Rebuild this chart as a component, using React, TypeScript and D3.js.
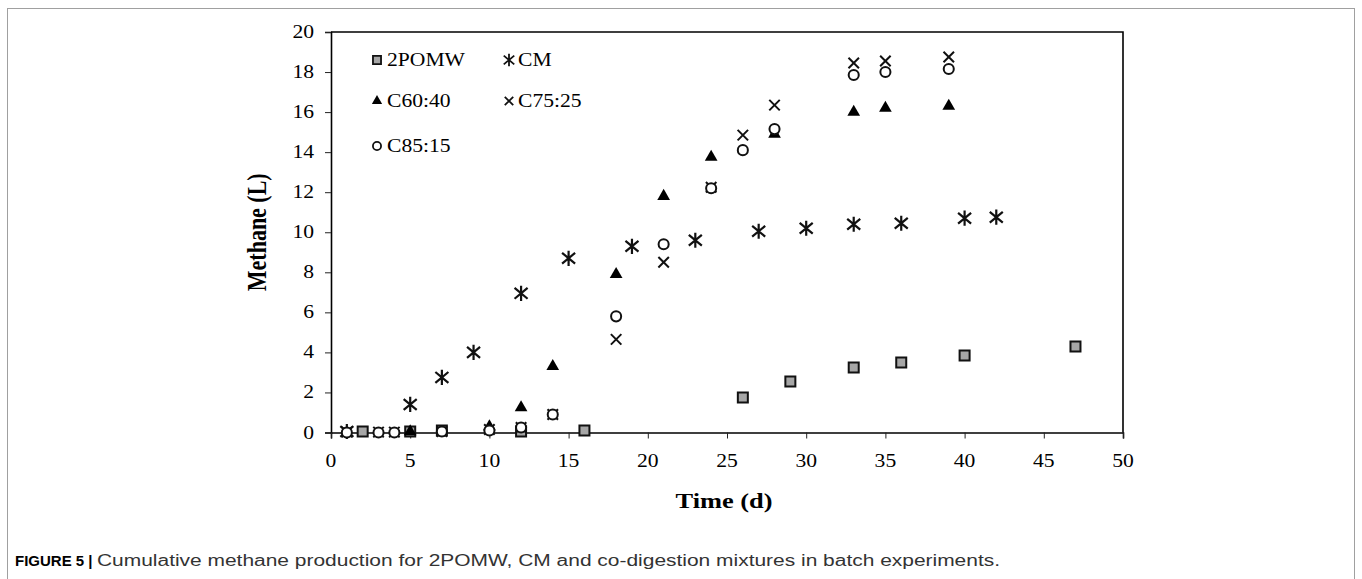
import React, { useRef, useEffect } from 'react'
import * as d3 from 'd3'

// time (d) and cumulative methane (L) per substrate
const days2POMW = [2, 5, 7, 12, 16, 26, 29, 33, 36, 40, 47]
const vals2POMW = [0.05, 0.05, 0.1, 0.05, 0.1, 1.75, 2.55, 3.25, 3.5, 3.85, 4.3]
const daysCM = [1, 5, 7, 9, 12, 15, 19, 23, 27, 30, 33, 36, 40, 42]
const valsCM = [0.05, 1.4, 2.75, 4.0, 6.95, 8.7, 9.3, 9.6, 10.05, 10.2, 10.4, 10.45, 10.7, 10.75]
const daysC60 = [5, 10, 12, 14, 18, 21, 24, 28, 33, 35, 39]
const valsC60 = [0.05, 0.3, 1.25, 3.3, 7.9, 11.8, 13.75, 14.9, 16.0, 16.2, 16.3]
const daysMix = [1, 3, 4, 7, 10, 12, 14, 18, 21, 24, 26, 28, 33, 35, 39]
const valsC75 = [0.02, 0.02, 0.02, 0.05, 0.15, 0.25, 0.9, 4.65, 8.5, 12.25, 14.85, 16.35, 18.45, 18.55, 18.75]
const valsC85 = [0, 0, 0, 0.05, 0.1, 0.25, 0.9, 5.8, 9.4, 12.2, 14.1, 15.15, 17.85, 18.0, 18.15]

const xTicks = [0, 5, 10, 15, 20, 25, 30, 35, 40, 45, 50]
const yTicks = [0, 2, 4, 6, 8, 10, 12, 14, 16, 18, 20]

// custom marker shapes for d3.symbol
const crossX = {
  draw(ctx: any, size: number) {
    const r = Math.sqrt(size) / 2
    ctx.moveTo(-r, -r); ctx.lineTo(r, r)
    ctx.moveTo(-r, r); ctx.lineTo(r, -r)
  }
}
const star = {
  draw(ctx: any, size: number) {
    const r = Math.sqrt(size) / 2
    ctx.moveTo(-r * 0.9, -r * 0.75); ctx.lineTo(r * 0.9, r * 0.75)
    ctx.moveTo(-r * 0.9, r * 0.75); ctx.lineTo(r * 0.9, -r * 0.75)
    ctx.moveTo(0, -r * 1.05); ctx.lineTo(0, r * 1.05)
  }
}

const series = [
  { name: '2POMW', days: days2POMW, vals: vals2POMW, type: d3.symbolSquare, size: 100, fill: '#a6a6a6', stroke: '#111', sw: 2 },
  { name: 'CM', days: daysCM, vals: valsCM, type: star, size: 210, fill: 'none', stroke: '#111', sw: 2.2 },
  { name: 'C60:40', days: daysC60, vals: valsC60, type: d3.symbolTriangle, size: 70, fill: '#000', stroke: 'none', sw: 0 },
  { name: 'C75:25', days: daysMix, vals: valsC75, type: crossX, size: 110, fill: 'none', stroke: '#111', sw: 2 },
  { name: 'C85:15', days: daysMix, vals: valsC85, type: d3.symbolCircle, size: 80, fill: '#fff', stroke: '#111', sw: 2 },
]

const serif = '"Liberation Serif", "Times New Roman", serif'

export default function App() {
  const svgEl = useRef<SVGSVGElement>(null)

  useEffect(() => {
    if (!svgEl.current) return
    const svg = d3.select(svgEl.current)
    svg.selectAll('*').remove()

    // outer figure frame
    svg.append('rect')
      .attr('x', 7.5).attr('y', 8.5).attr('width', 1347).attr('height', 620)
      .attr('fill', 'none').attr('stroke', '#a0a0a0').attr('stroke-width', 1)

    const x = d3.scaleLinear().domain([0, 50]).range([331, 1123])
    const y = d3.scaleLinear().domain([0, 20]).range([432.5, 32])

    const stretch = (px: number, py: number) => `translate(${px},${py}) scale(1.2,1)`

    // y axis
    svg.append('g')
      .attr('transform', `translate(${x(0)},0)`)
      .call(d3.axisLeft(y).tickValues(yTicks).tickSize(6).tickFormat(() => ''))
      .call(g => g.select('.domain').attr('stroke', '#000').attr('stroke-width', 1.6))
      .call(g => g.selectAll('.tick line').attr('stroke', '#222').attr('stroke-width', 1))

    svg.append('g').selectAll('text').data(yTicks).enter().append('text')
      .attr('transform', d => stretch(314, y(d) + 6))
      .attr('text-anchor', 'end')
      .style('font-family', serif).style('font-size', '18px').attr('fill', '#000')
      .text(d => d)

    // x axis
    svg.append('g')
      .attr('transform', `translate(0,${y(0)})`)
      .call(d3.axisBottom(x).tickValues(xTicks).tickSize(6).tickFormat(() => ''))
      .call(g => g.select('.domain').attr('stroke', '#000').attr('stroke-width', 1.6))
      .call(g => g.selectAll('.tick line').attr('stroke', '#222').attr('stroke-width', 1))

    svg.append('g').selectAll('text').data(xTicks).enter().append('text')
      .attr('transform', d => stretch(x(d), 467))
      .attr('text-anchor', 'middle')
      .style('font-family', serif).style('font-size', '18px').attr('fill', '#000')
      .text(d => d)

    // top and right border of the plot
    svg.append('path')
      .attr('d', `M${x(0)},${y(20)}H${x(50)}V${y(0)}`)
      .attr('fill', 'none').attr('stroke', '#000').attr('stroke-width', 1.6)

    // axis titles
    svg.append('text')
      .attr('transform', stretch(724, 508))
      .attr('text-anchor', 'middle')
      .style('font-family', serif).style('font-size', '22px').style('font-weight', 'bold')
      .text('Time (d)')

    svg.append('text')
      .attr('transform', `translate(266,${(y(0) + y(20)) / 2}) scale(1.2,1) rotate(-90)`)
      .attr('text-anchor', 'middle')
      .style('font-family', serif).style('font-size', '22px').style('font-weight', 'bold')
      .text('Methane (L)')

    // data points
    series.forEach(s => {
      const sym = d3.symbol().type(s.type as any).size(s.size)
      svg.append('g').selectAll('path').data(s.days).enter().append('path')
        .attr('transform', (d, i) => `translate(${x(d)},${y(s.vals[i])})`)
        .attr('d', sym() as string)
        .attr('fill', s.fill).attr('stroke', s.stroke).attr('stroke-width', s.sw)
    })

    // legend
    const legendPos = [
      { mx: 377, tx: 387, ty: 66 },
      { mx: 509, tx: 518, ty: 66 },
      { mx: 377, tx: 387, ty: 107 },
      { mx: 509, tx: 518, ty: 107 },
      { mx: 377, tx: 387, ty: 152 },
    ]
    series.forEach((s, i) => {
      const p = legendPos[i]
      const sym = d3.symbol().type(s.type as any).size(s.size * 0.65)
      svg.append('path')
        .attr('transform', `translate(${p.mx},${p.ty - 6})`)
        .attr('d', sym() as string)
        .attr('fill', s.fill).attr('stroke', s.stroke).attr('stroke-width', s.sw ? 1.8 : 0)
      svg.append('text')
        .attr('transform', stretch(p.tx, p.ty))
        .style('font-family', serif).style('font-size', '18px').attr('fill', '#000')
        .text(s.name)
    })

    // figure caption
    svg.append('text')
      .attr('x', 15).attr('y', 566)
      .style('font-family', '"Liberation Sans", Arial, sans-serif').style('font-size', '15px')
      .style('font-weight', 'bold').attr('fill', '#000')
      .text('FIGURE 5 |')
    svg.append('text')
      .attr('x', 97).attr('y', 566)
      .attr('textLength', 903).attr('lengthAdjust', 'spacingAndGlyphs')
      .style('font-family', '"Liberation Sans", Arial, sans-serif').style('font-size', '16px')
      .attr('fill', '#333')
      .text('Cumulative methane production for 2POMW, CM and co-digestion mixtures in batch experiments.')
  }, [])

  return (
    <div style={{ position: 'absolute', left: 0, top: 0 }}>
      <svg ref={svgEl} width={1362} height={579} style={{ display: 'block', background: '#fff' }} />
    </div>
  )
}
